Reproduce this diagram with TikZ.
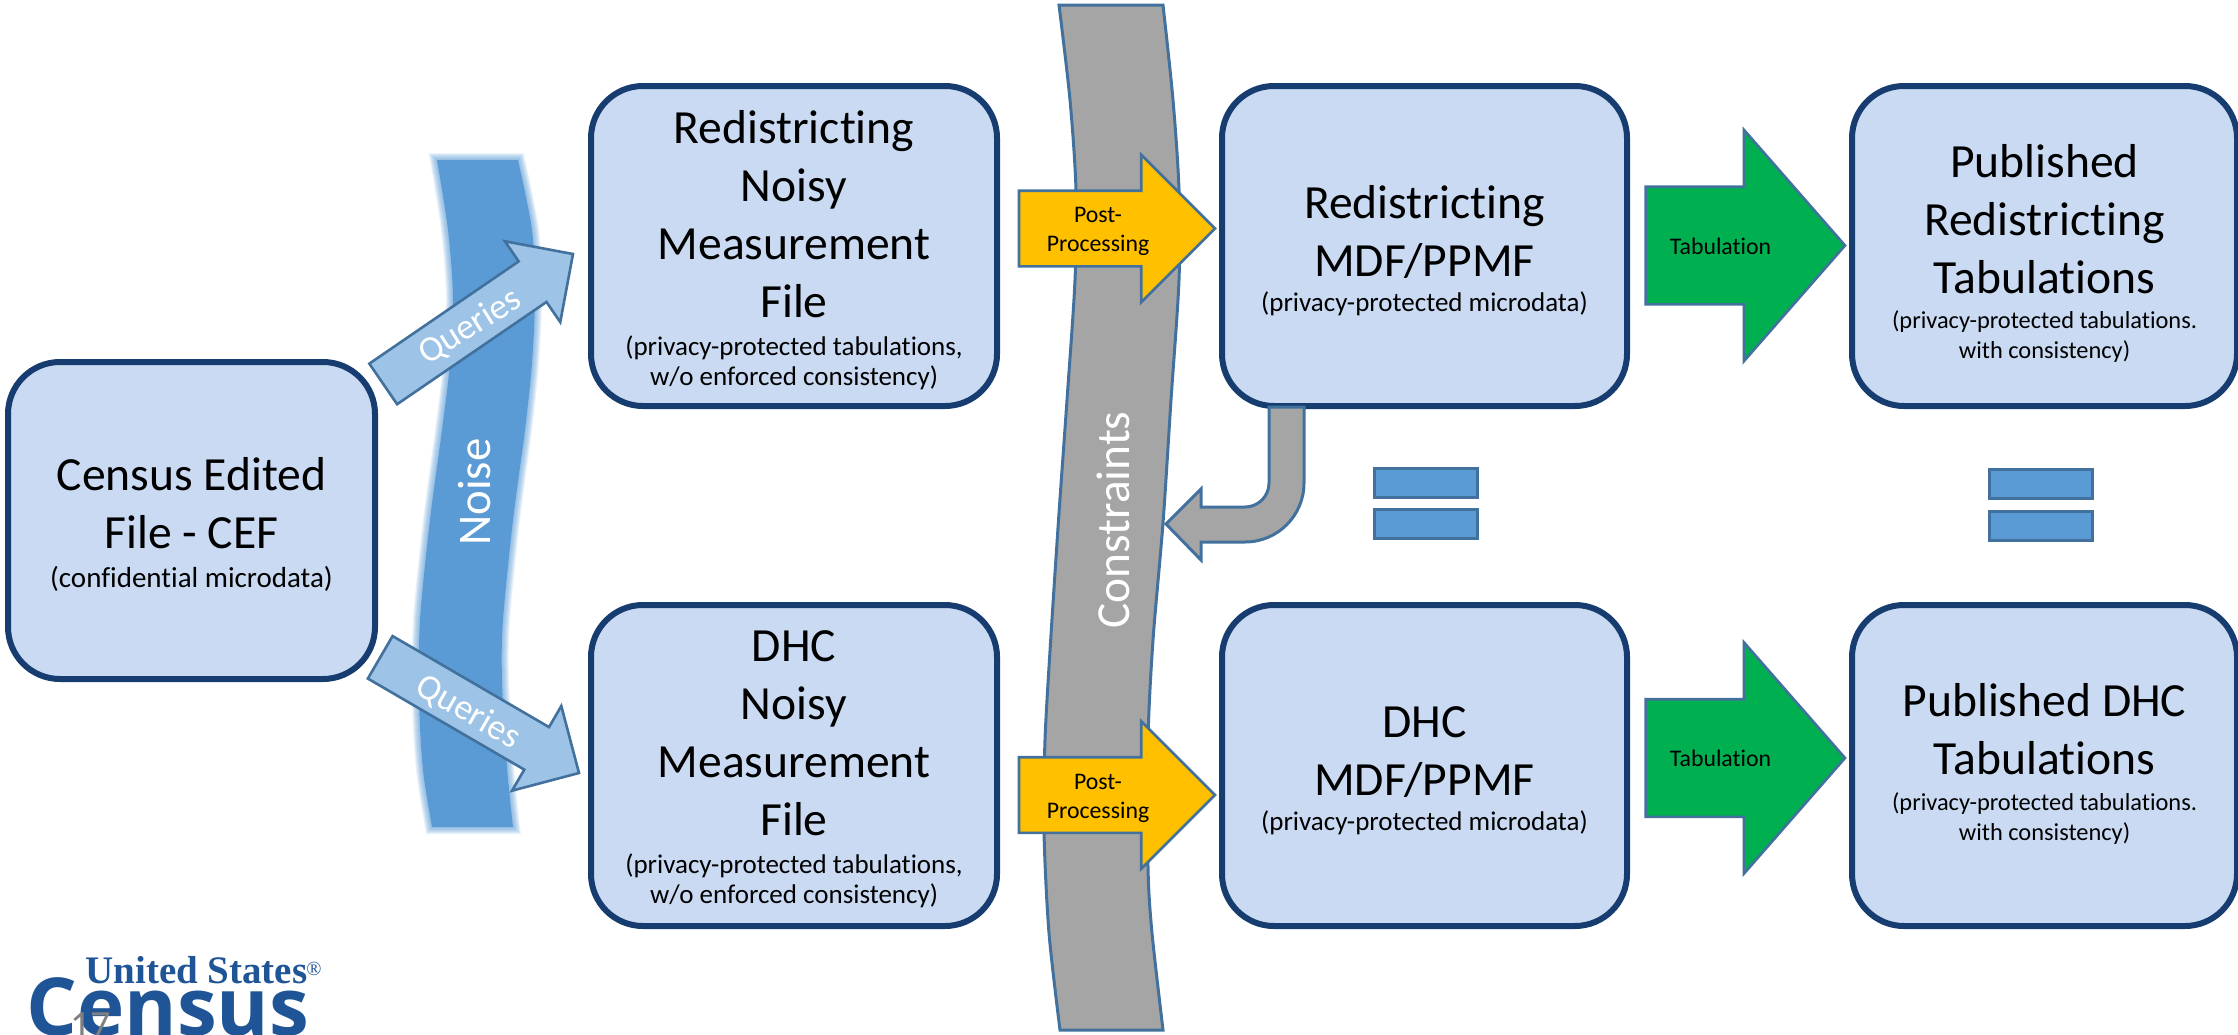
\documentclass[tikz,border=0pt]{standalone}
\usepackage{fontspec}
\setmainfont{Carlito}[Ligatures=CommonOff]
\newfontfamily\logoserif{Liberation Serif}
\newfontfamily\logosans{Open Sans}
\usetikzlibrary{shapes.arrows}
\definecolor{boxfill}{HTML}{C9DAF2}
\definecolor{boxline}{HTML}{173D70}
\definecolor{arrowline}{HTML}{41719C}
\definecolor{noiseblue}{HTML}{5B9BD5}
\definecolor{queryblue}{HTML}{9DC3E6}
\definecolor{constraintgray}{HTML}{A5A5A5}
\definecolor{postyellow}{HTML}{FFC000}
\definecolor{tabgreen}{HTML}{00B050}
\definecolor{logoblue}{HTML}{1F5596}
\newcommand{\subtxt}[2][13.5]{{\fontsize{#1}{14.5}\selectfont #2}}
\newcommand{\pushdown}[2]{\raisebox{0pt}[\dimexpr\height+#1\relax]{#2}}
\newcommand{\noiseshape}{plot[smooth] coordinates {(437,160) (448,230) (453,297) (450,363) (442,430) (430,520) (420,620) (419,700) (423,770) (432,827)} -- plot[smooth] coordinates {(513,827) (507,767) (502,680) (503,620) (513,520) (525,430) (532,363) (535,297) (532,230) (518,160)} -- cycle}
\tikzset{
  databox/.style={draw=boxline, fill=boxfill, line width=3pt, rounded corners=26pt, outer sep=0pt,
    inner sep=0pt, align=center, font=\fontsize{23.8}{29}\selectfont},
  blockarrow/.style={single arrow, draw=arrowline, line width=1.3pt, outer sep=0pt, inner xsep=0pt, anchor=tip},
  postarrow/.style={blockarrow, fill=postyellow, minimum height=98pt, inner ysep=18.25pt, single arrow head extend=18pt},
  tabarrow/.style={blockarrow, fill=tabgreen, minimum height=99.7pt, inner ysep=28.75pt, single arrow head extend=28.5pt,
    single arrow tip angle=97.7},
  queryarrow/.style={blockarrow, fill=queryblue, minimum height=115pt, inner ysep=11.65pt, single arrow head extend=12.2pt},
  arrowtext/.style={inner sep=0pt, align=center, font=\fontsize{11.9}{14.5}\selectfont},
  querytext/.style={inner sep=0pt, text=white, font=\fontsize{18}{22}\selectfont},
  eqbar/.style={draw=arrowline, fill=noiseblue, line width=1.5pt, minimum width=51.5pt, minimum height=14.5pt, inner sep=0pt, outer sep=0pt},
}
\begin{document}
\begin{tikzpicture}[x=0.5pt, y=-0.5pt]
  \useasboundingbox (0,0) rectangle (2238,1034);
  % noise band, soft edge
  \foreach \w in {14,12,10,8,6,4,2}
    \draw[noiseblue, opacity=0.13, line width=\w*0.5pt] \noiseshape;
  \fill[noiseblue] \noiseshape;
  \node[rotate=90, text=white, inner sep=0pt, font=\fontsize{23.4}{28.5}\selectfont] (noise) at (475,492) {Noise};
  % constraints band
  \draw[draw=arrowline, fill=constraintgray, line width=1.5pt]
    plot[smooth] coordinates {(1059,5) (1070,100) (1076,190) (1075,280) (1067,400) (1059,513) (1051,635) (1045,740) (1044,832) (1049,933) (1060,1030)}
    -- plot[smooth] coordinates {(1163,1030) (1152,933) (1148,867) (1148,740) (1153,640) (1163,523) (1171,400) (1179,280) (1179,190) (1173,100) (1163,5)}
    -- cycle;
  \node[rotate=90, text=white, inner sep=0pt, font=\fontsize{23.7}{29}\selectfont] (constraints) at (1113,520) {Constraints};
  % boxes
  \node[databox, minimum width=183.5pt, minimum height=158.5pt] (cef) at (191.5,520.5)
    {\pushdown{4pt}{Census Edited}\\File - CEF\\[-9.5pt]\subtxt[14.5]{(confidential microdata)}};
  \node[databox, minimum width=203pt, minimum height=160pt] (rnoisy) at (794,246)
    {\pushdown{4pt}{Redistricting}\\Noisy\\Measurement\\File\\[-10pt]\subtxt{(privacy-protected tabulations,}\\[-14pt]\subtxt{w/o enforced consistency)}};
  \node[databox, minimum width=203pt, minimum height=160.5pt] (dnoisy) at (794,765.5)
    {\pushdown{4pt}{DHC}\\Noisy\\Measurement\\File\\[-10pt]\subtxt{(privacy-protected tabulations,}\\[-14pt]\subtxt{w/o enforced consistency)}};
  \node[databox, minimum width=202.5pt, minimum height=160pt] (rmdf) at (1424.5,246)
    {\pushdown{5pt}{Redistricting}\\MDF/PPMF\\[-11.5pt]\subtxt{(privacy-protected microdata)}};
  \node[databox, minimum width=202.5pt, minimum height=160.5pt] (dmdf) at (1424.5,765.5)
    {\pushdown{5pt}{DHC}\\MDF/PPMF\\[-11.5pt]\subtxt{(privacy-protected microdata)}};
  \node[databox, minimum width=192.5pt, minimum height=160pt] (rpub) at (2044.5,246)
    {\pushdown{7.5pt}{Published}\\Redistricting\\Tabulations\\[-11.5pt]\subtxt[12.2]{(privacy-protected tabulations.}\\[-14pt]\subtxt[12.2]{with consistency)}};
  \node[databox, minimum width=192.5pt, minimum height=160.5pt] (dpub) at (2044.5,765.5)
    {\pushdown{-2pt}{Published DHC}\\Tabulations\\[-11pt]\subtxt[12.2]{(privacy-protected tabulations.}\\[-14pt]\subtxt[12.2]{with consistency)}};
  % queries
  \node[queryarrow, rotate=34.4] (qup) at (573,254) {};
  \node[querytext, rotate=32] (quptext) at (470,327) {Queries};
  \node[queryarrow, rotate=-30.2] (qdown) at (579,773) {};
  \node[querytext, rotate=-30] (qdowntext) at (468,712) {Queries};
  % post processing and tabulation
  \node[postarrow] (postr) at (1215,228.5) {};
  \node[arrowtext] (postrtext) at (1098,231) {Post-\\Processing};
  \node[postarrow] (postd) at (1215,795) {};
  \node[arrowtext] (postdtext) at (1098,798.5) {Post-\\Processing};
  \node[tabarrow] (tabr) at (1845,245.5) {};
  \node[arrowtext] (tabrtext) at (1720.5,246) {Tabulation};
  \node[tabarrow] (tabd) at (1845,758) {};
  \node[arrowtext] (tabdtext) at (1720.5,758.5) {Tabulation};
  % bent arrow back to the constraints
  \draw[draw=arrowline, fill=constraintgray, line width=1.5pt]
    (1269,407) -- (1304,407) -- (1304,483) arc[start angle=0, end angle=-90, x radius=59, y radius=-59]
    -- (1201,542) -- (1201,560) -- (1166,524) -- (1201,489) -- (1201,507) -- (1245,507)
    arc[start angle=-90, end angle=0, x radius=24, y radius=-24] -- cycle;
  % equal signs
  \node[eqbar] (eqa) at (1426,482.5) {};
  \node[eqbar] (eqb) at (1426,524) {};
  \node[eqbar] (eqc) at (2041,484) {};
  \node[eqbar] (eqd) at (2041,526) {};
  % logo and page number
  \begin{scope}
    \clip (0,0) rectangle (2238,1034);
    \node[anchor=base west, inner sep=0pt, text=logoblue, font=\logosans\bfseries\fontsize{40}{40}\selectfont] (census) at (26,1035) {Census};
    \node[anchor=base west, inner sep=0pt, text=logoblue, font=\logoserif\bfseries\fontsize{19.5}{20}\selectfont] (unitedstates) at (85,983) {United States};
    \node[anchor=base west, inner sep=0pt, text=logoblue, font=\logoserif\fontsize{10}{10}\selectfont] (regmark) at (306,975) {®};
    \node[anchor=base west, inner sep=0pt, text=gray, font=\fontsize{20}{20}\selectfont] (pagenum) at (70,1038) {17};
  \end{scope}
\end{tikzpicture}
\end{document}
